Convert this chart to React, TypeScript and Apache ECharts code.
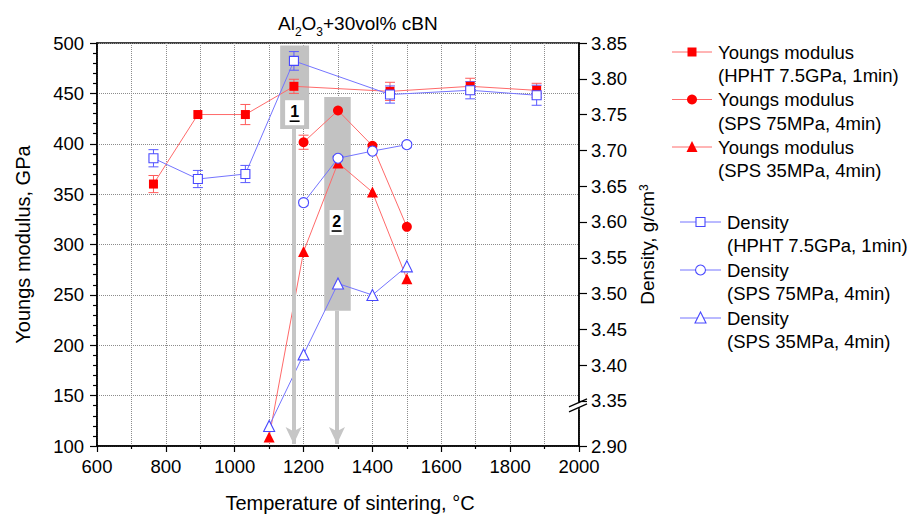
import React, { useEffect, useRef } from 'react';
import * as echarts from 'echarts';

const FONT = '"Liberation Sans", Arial, Helvetica, sans-serif';

// ---- data ----
const hphtTemp = [764, 893, 1031, 1172, 1451, 1684, 1877];
const hphtModulus = [360, 429, 429, 457, 452, 457, 453];
const hphtModulusErr = [8.5, 0, 10, 7, 9, 8, 7];
const hphtDensity = [3.689, 3.66, 3.667, 3.825, 3.778, 3.784, 3.777];
const hphtDensityErr = [0.012, 0.012, 0.012, 0.013, 0.012, 0.012, 0.014];

const sps75Temp = [1200, 1300, 1400, 1500];
const sps75Modulus = [401.5, 433, 398, 317.5];
const sps75ModulusErr = [7, 0, 0, 0];
const sps75Density = [3.627, 3.689, 3.699, 3.708];

const sps35Temp = [1100, 1200, 1300, 1400, 1500];
const sps35Modulus = [109, 293, 381, 352, 266];
const sps35Density = [2.928, 3.415, 3.514, 3.498, 3.538];

const rightTickValues = [2.9, 3.35, 3.4, 3.45, 3.5, 3.55, 3.6, 3.65, 3.7, 3.75, 3.8, 3.85];

const seriesNames = [
  'Youngs modulus\n(HPHT 7.5GPa, 1min)',
  'Youngs modulus\n(SPS 75MPa, 4min)',
  'Youngs modulus\n(SPS 35MPa, 4min)',
  'Density\n(HPHT 7.5GPa, 1min)',
  'Density\n(SPS 75MPa, 4min)',
  'Density\n(SPS 35MPa, 4min)',
];

const RED = '#ff0000';
const RED_LINE = '#ff6a6a';
const BLUE = '#4848ff';
const BLUE_LINE = '#7474ff';
const GRAY_BOX = '#c2c2c2';
const GRAY_ARROW = '#c6c6c6';

function errSeries(temps: number[], vals: number[], errs: number[], color: string, yAxisIndex: number) {
  const data = temps
    .map((t, i) => [t, vals[i] - errs[i], vals[i] + errs[i]])
    .filter((_, i) => errs[i] > 0);
  return {
    type: 'custom',
    xAxisIndex: 0,
    yAxisIndex,
    data,
    silent: true,
    encode: { x: 0, y: [1, 2] },
    renderItem: (_p: any, api: any) => {
      const x = api.value(0);
      const lo = api.coord([x, api.value(1)]);
      const hi = api.coord([x, api.value(2)]);
      const w = 5;
      const style = { stroke: color, lineWidth: 1, fill: 'none' };
      return {
        type: 'group',
        children: [
          { type: 'line', shape: { x1: lo[0], y1: lo[1], x2: hi[0], y2: hi[1] }, style },
          { type: 'line', shape: { x1: hi[0] - w, y1: hi[1], x2: hi[0] + w, y2: hi[1] }, style },
          { type: 'line', shape: { x1: lo[0] - w, y1: lo[1], x2: lo[0] + w, y2: lo[1] }, style },
        ],
      };
    },
  };
}

function lineSeries(
  name: string,
  temps: number[],
  vals: number[],
  symbol: string,
  size: number,
  filled: boolean,
  color: string,
  lineColor: string,
  yAxisIndex: number
) {
  return {
    type: 'line',
    name,
    xAxisIndex: 0,
    yAxisIndex,
    data: temps.map((t, i) => [t, vals[i]]),
    symbol,
    symbolSize: size,
    showSymbol: true,
    silent: true,
    lineStyle: { color: lineColor, width: 1 },
    itemStyle: filled
      ? { color, borderWidth: 0 }
      : { color: '#ffffff', borderColor: color, borderWidth: 1.1 },
    emphasis: { disabled: true },
  };
}

function buildOption(): any {
  const axisLabelStyle = { fontFamily: FONT, fontSize: 18.5, color: '#000' };
  const nameStyle = { fontFamily: FONT, fontSize: 20, color: '#000' };
  return {
    animation: false,
    backgroundColor: '#ffffff',
    textStyle: { fontFamily: FONT },
    title: {
      text: 'Al{s|2}O{s|3}+30vol% cBN',
      left: 278,
      top: 8,
      padding: 0,
      textStyle: {
        fontFamily: FONT,
        fontSize: 19,
        fontWeight: 'normal',
        color: '#000',
        lineHeight: 30,
        rich: {
          s: { fontFamily: FONT, fontSize: 12, lineHeight: 12, verticalAlign: 'bottom', color: '#000' },
        },
      },
    },
    grid: {
      left: 97,
      top: 43,
      right: 330,
      bottom: 66,
      show: true,
      borderColor: '#000',
      borderWidth: 1.5,
      backgroundColor: 'transparent',
      containLabel: false,
    },
    xAxis: {
      type: 'value',
      min: 600,
      max: 2000,
      interval: 200,
      name: 'Temperature of sintering, °C',
      nameLocation: 'middle',
      nameGap: 47,
      nameTextStyle: { ...nameStyle, padding: [0, 0, 0, 24] },
      axisLine: { show: true, onZero: false, lineStyle: { color: '#000', width: 1.5 } },
      axisTick: { show: true, length: 6, lineStyle: { color: '#000', width: 1.2 } },
      minorTick: { show: true, splitNumber: 2, length: 3, lineStyle: { color: '#000', width: 1.2 } },
      axisLabel: { ...axisLabelStyle, margin: 11, formatter: (v: number) => String(v) },
      splitLine: { show: true, lineStyle: { color: '#8c8c8c', type: 'dotted', width: 1 } },
      minorSplitLine: { show: true, lineStyle: { color: '#8c8c8c', type: 'dotted', width: 1 } },
    },
    yAxis: [
      {
        type: 'value',
        position: 'left',
        min: 100,
        max: 500,
        interval: 50,
        name: 'Youngs modulus, GPa',
        nameLocation: 'middle',
        nameGap: 64,
        nameTextStyle: nameStyle,
        axisLine: { show: true, onZero: false, lineStyle: { color: '#000', width: 1.5 } },
        axisTick: { show: true, length: 7, lineStyle: { color: '#000', width: 1.2 } },
        minorTick: { show: true, splitNumber: 5, length: 4, lineStyle: { color: '#000', width: 1.2 } },
        axisLabel: { ...axisLabelStyle, margin: 13, formatter: (v: number) => String(v) },
        splitLine: { show: true, lineStyle: { color: '#8c8c8c', type: 'dotted', width: 1 } },
      },
      {
        type: 'value',
        position: 'right',
        min: 2.9,
        max: 3.85,
        breaks: [{ start: 2.95, end: 3.35, gap: '2.3%' }],
        breakArea: { show: false },
        name: 'Density, g/cm{sup|3}',
        nameLocation: 'middle',
        nameGap: 58,
        nameTextStyle: {
          ...nameStyle,
          fontSize: 19,
          rich: { sup: { fontFamily: FONT, fontSize: 12, verticalAlign: 'top', color: '#000' } },
        },
        axisLine: { show: true, onZero: false, lineStyle: { color: '#000', width: 1.5 } },
        axisTick: { show: true, length: 8, customValues: rightTickValues, lineStyle: { color: '#000', width: 1.2 } },
        axisLabel: {
          ...axisLabelStyle,
          margin: 12,
          customValues: rightTickValues,
          formatter: (v: number) => v.toFixed(2),
        },
        splitLine: { show: false },
      },
    ],
    series: [
      {
        type: 'line',
        name: 'annotations',
        xAxisIndex: 0,
        yAxisIndex: 0,
        data: [],
        silent: true,
        markArea: {
          silent: true,
          itemStyle: { color: GRAY_BOX, opacity: 1 },
          label: { show: false },
          data: [
            [{ coord: [1132, 497.5] }, { coord: [1216, 414.6] }],
            [{ coord: [1260, 446.5] }, { coord: [1337, 234.3] }],
          ],
        },
        markLine: {
          silent: true,
          symbol: ['none', 'arrow'],
          symbolSize: [12, 17],
          label: { show: false },
          lineStyle: { color: GRAY_ARROW, width: 4, type: 'solid' },
          data: [
            [{ coord: [1171, 414.6] }, { coord: [1171, 102] }],
            [{ coord: [1297, 234.3] }, { coord: [1297, 102] }],
          ],
        },
      },
      errSeries(hphtTemp, hphtModulus, hphtModulusErr, '#ff5a5a', 0),
      lineSeries(seriesNames[0], hphtTemp, hphtModulus, 'rect', 9, true, RED, RED_LINE, 0),
      errSeries(sps75Temp, sps75Modulus, sps75ModulusErr, '#ff5a5a', 0),
      lineSeries(seriesNames[1], sps75Temp, sps75Modulus, 'circle', 10, true, RED, RED_LINE, 0),
      lineSeries(seriesNames[2], sps35Temp, sps35Modulus, 'triangle', 11, true, RED, RED_LINE, 0),
      errSeries(hphtTemp, hphtDensity, hphtDensityErr, '#5a5aff', 1),
      lineSeries(seriesNames[3], hphtTemp, hphtDensity, 'rect', 9, false, BLUE, BLUE_LINE, 1),
      lineSeries(seriesNames[4], sps75Temp, sps75Density, 'circle', 10, false, BLUE, BLUE_LINE, 1),
      lineSeries(seriesNames[5], sps35Temp, sps35Density, 'triangle', 11, false, BLUE, BLUE_LINE, 1),
    ],
  };
}

function buildGraphic(chart: any): any[] {
  const g: any[] = [];
  // numbered boxes
  const boxes = [
    { label: '1', at: [1174, 430.8], w: 19, h: 25 },
    { label: '2', at: [1296, 321.8], w: 14, h: 25 },
  ];
  boxes.forEach((b) => {
    const p = chart.convertToPixel({ xAxisIndex: 0, yAxisIndex: 0 }, b.at);
    g.push({
      type: 'rect',
      shape: { x: p[0] - b.w / 2, y: p[1] - b.h / 2, width: b.w, height: b.h },
      style: { fill: '#ffffff' },
      z: 10,
      silent: true,
    });
    g.push({
      type: 'text',
      x: p[0],
      y: p[1] - 1,
      style: {
        text: b.label,
        font: `bold 16px ${FONT}`,
        fill: '#000',
        align: 'center',
        verticalAlign: 'middle',
      },
      z: 11,
      silent: true,
    });
    g.push({
      type: 'line',
      shape: { x1: p[0] - 5, y1: p[1] + 8.5, x2: p[0] + 5, y2: p[1] + 8.5 },
      style: { stroke: '#000', lineWidth: 1.6 },
      z: 11,
      silent: true,
    });
  });

  // axis break mark on the right axis
  const y335 = chart.convertToPixel({ yAxisIndex: 1 }, 3.35);
  const xr = chart.convertToPixel({ xAxisIndex: 0 }, 2000);
  g.push({
    type: 'rect',
    shape: { x: xr - 2.5, y: y335 + 2.2, width: 5, height: 4 },
    style: { fill: '#ffffff' },
    z: 20,
    silent: true,
  });
  g.push({
    type: 'line',
    shape: { x1: xr - 10, y1: y335 + 6, x2: xr + 8, y2: y335 - 2 },
    style: { stroke: '#000', lineWidth: 1.3 },
    z: 21,
    silent: true,
  });
  g.push({
    type: 'line',
    shape: { x1: xr - 10, y1: y335 + 11, x2: xr + 8, y2: y335 + 3 },
    style: { stroke: '#000', lineWidth: 1.3 },
    z: 21,
    silent: true,
  });

  // legend
  const legendRows = [
    { name: seriesNames[0], kind: 'square', red: true, y: 52 },
    { name: seriesNames[1], kind: 'circle', red: true, y: 99.5 },
    { name: seriesNames[2], kind: 'triangle', red: true, y: 147 },
    { name: seriesNames[3], kind: 'square', red: false, y: 222 },
    { name: seriesNames[4], kind: 'circle', red: false, y: 270 },
    { name: seriesNames[5], kind: 'triangle', red: false, y: 318 },
  ];
  legendRows.forEach((r) => {
    const x0 = r.red ? 672 : 680;
    const x1 = r.red ? 712 : 721;
    const mx = (x0 + x1) / 2;
    const tx = r.red ? 718 : 727;
    const lineColor = r.red ? RED_LINE : BLUE_LINE;
    const fill = r.red ? RED : '#ffffff';
    const stroke = r.red ? RED : BLUE;
    g.push({
      type: 'line',
      shape: { x1: x0, y1: r.y, x2: x1, y2: r.y },
      style: { stroke: lineColor, lineWidth: 1 },
      silent: true,
    });
    const ms = { fill, stroke: r.red ? 'none' : stroke, lineWidth: 1.1 };
    if (r.kind === 'square') {
      g.push({ type: 'rect', shape: { x: mx - 4.5, y: r.y - 4.5, width: 9, height: 9 }, style: ms, silent: true });
    } else if (r.kind === 'circle') {
      g.push({ type: 'circle', shape: { cx: mx, cy: r.y, r: 5 }, style: ms, silent: true });
    } else {
      g.push({
        type: 'polygon',
        shape: { points: [[mx, r.y - 6], [mx - 5.5, r.y + 5], [mx + 5.5, r.y + 5]] },
        style: ms,
        silent: true,
      });
    }
    g.push({
      type: 'text',
      x: tx,
      y: r.y - 11.75,
      style: {
        text: r.name,
        font: `18.5px ${FONT}`,
        lineHeight: 23.5,
        fill: '#000',
        align: 'left',
        verticalAlign: 'top',
      },
      silent: true,
    });
  });
  return g;
}

export default function App() {
  const ref = useRef<HTMLDivElement>(null);
  useEffect(() => {
    const el = ref.current;
    if (!el) return;
    const chart = echarts.init(el, null, { renderer: 'svg' });
    chart.setOption(buildOption());
    chart.setOption({ graphic: buildGraphic(chart) });
    return () => {
      chart.dispose();
    };
  }, []);
  return (
    <div
      ref={ref}
      style={{ position: 'fixed', left: 0, top: 0, width: 909, height: 518, background: '#ffffff' }}
    />
  );
}
